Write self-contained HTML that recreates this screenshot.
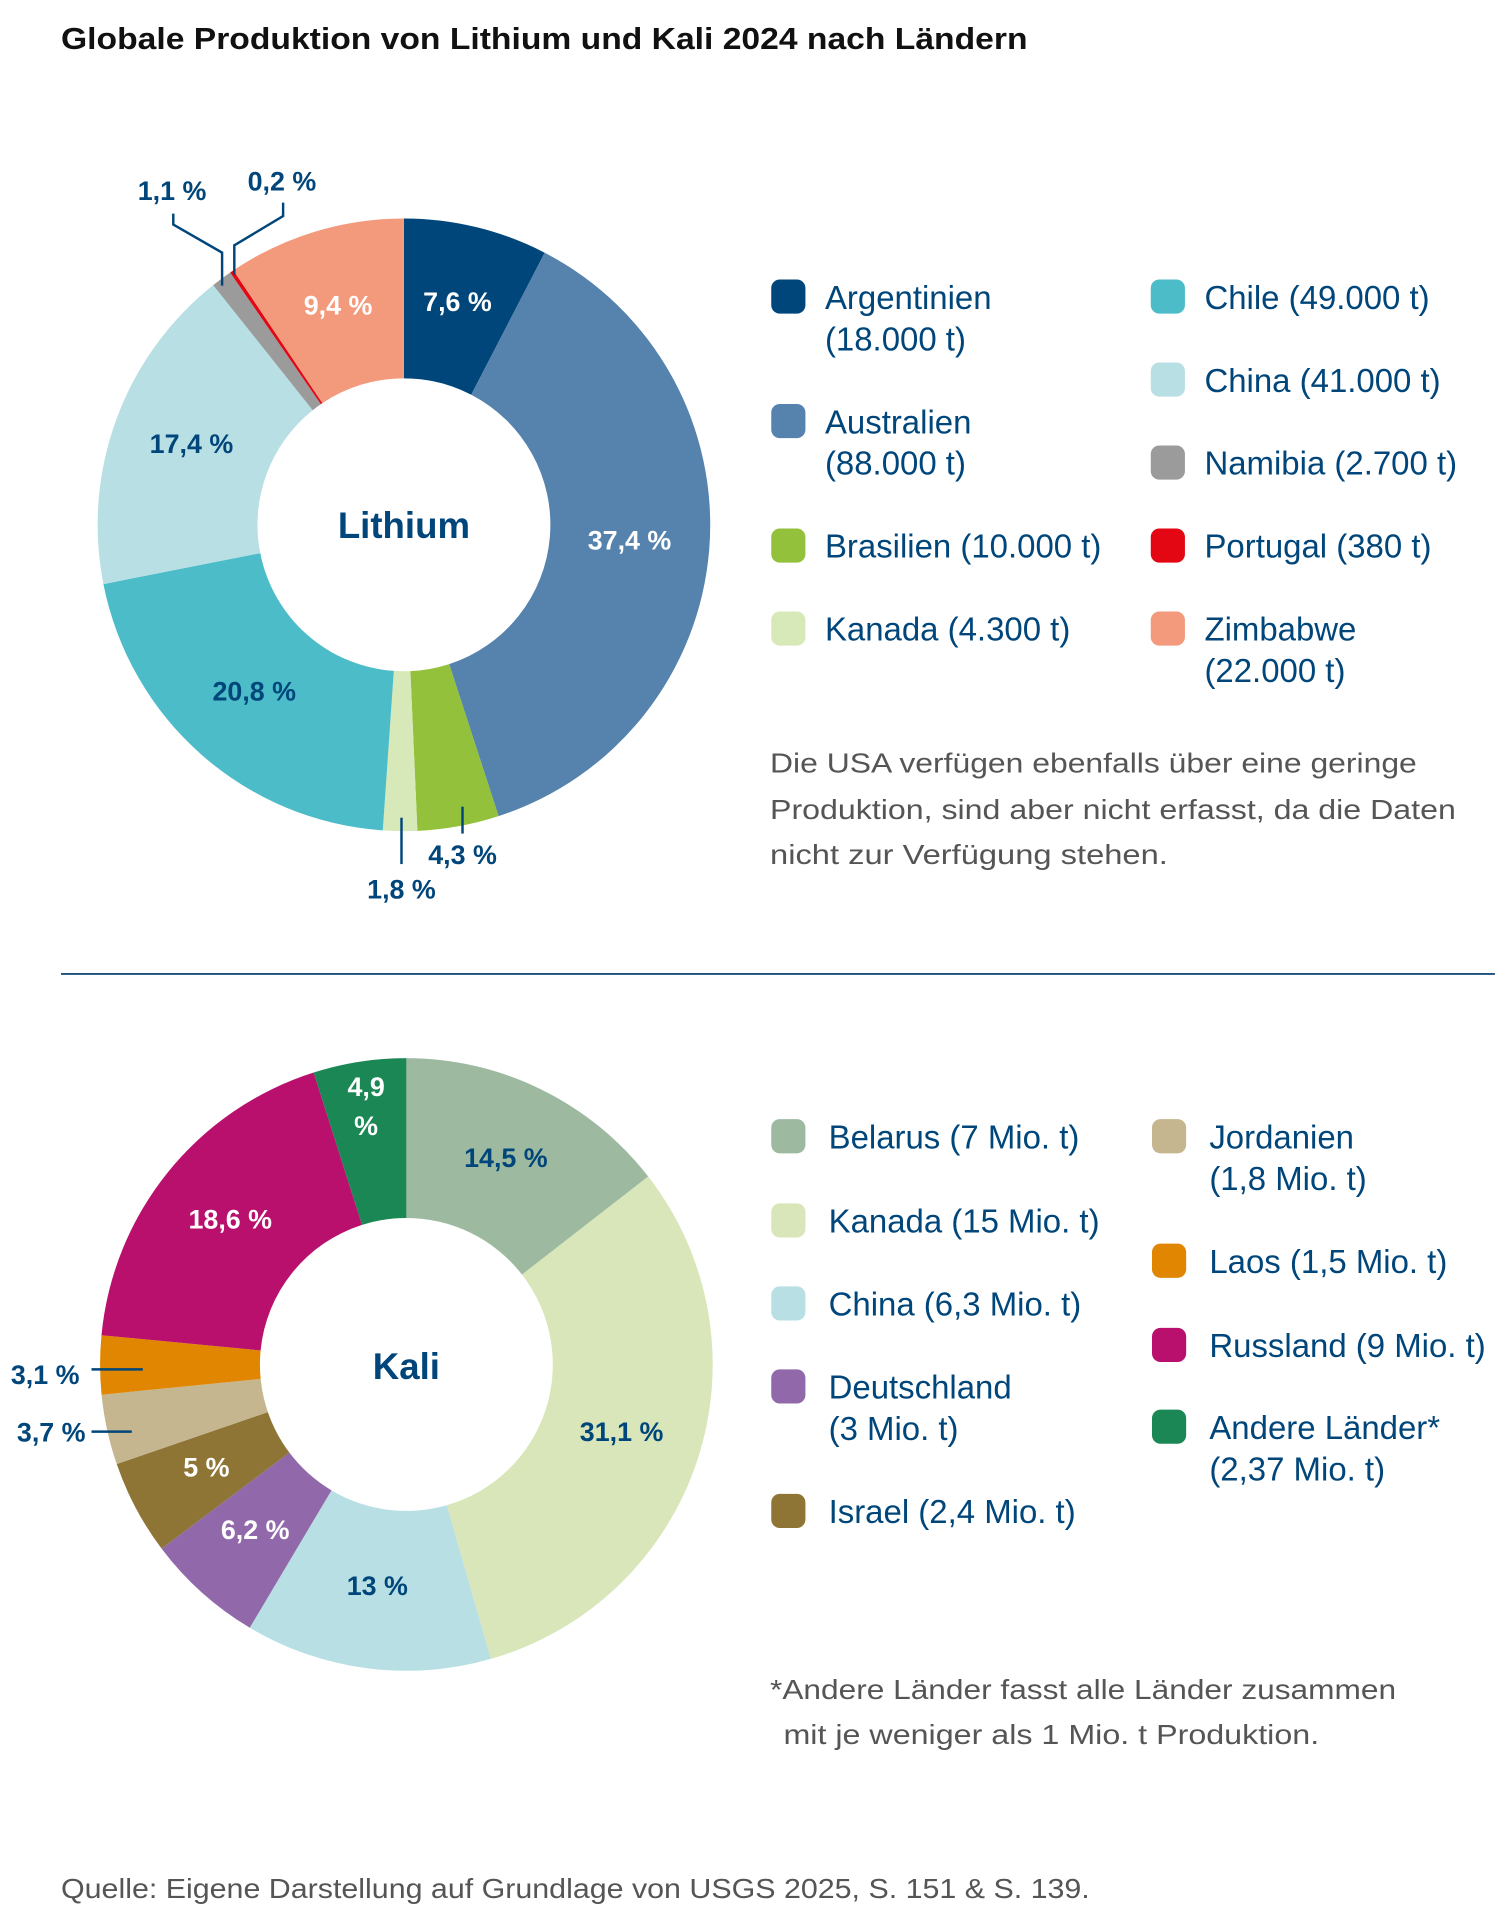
<!DOCTYPE html>
<html><head><meta charset="utf-8"><style>
html,body{margin:0;padding:0;background:#fff}
svg{display:block}
text{font-family:"Liberation Sans",sans-serif}
</style></head><body>
<svg id="chart" width="1501" height="1921" viewBox="0 0 1230 1574" preserveAspectRatio="none" xmlns="http://www.w3.org/2000/svg">
<text x="50" y="40" font-size="25" font-weight="bold" fill="#111" textLength="792" lengthAdjust="spacingAndGlyphs">Globale Produktion von Lithium und Kali 2024 nach Ländern</text>
<g id="li"></g>
<g id="ka"></g>
<text x="331" y="441" font-size="30" font-weight="bold" fill="#00467a" text-anchor="middle">Lithium</text>
<text x="333" y="1130" font-size="30" font-weight="bold" fill="#00467a" text-anchor="middle">Kali</text>
<g stroke="#00467a" stroke-width="2" fill="none">
<polyline points="142,175 142,184 182,207 182,234"/>
<polyline points="232,166 232,177 192,201 192,225"/>
<line x1="379" y1="661" x2="379" y2="683"/>
<line x1="329" y1="670" x2="329" y2="708"/>
<line x1="75" y1="1173" x2="108" y2="1173"/>
<line x1="75" y1="1122" x2="117" y2="1122"/>
</g>
<g id="lgli"></g>
<g id="lgka"></g>
<g font-size="23" fill="#555">
<text x="631" y="633" textLength="530" lengthAdjust="spacingAndGlyphs">Die USA verfügen ebenfalls über eine geringe</text>
<text x="631" y="671" textLength="562" lengthAdjust="spacingAndGlyphs">Produktion, sind aber nicht erfasst, da die Daten</text>
<text x="631" y="708" textLength="326" lengthAdjust="spacingAndGlyphs">nicht zur Verfügung stehen.</text>
</g>
<line x1="50" y1="798" x2="1225" y2="798" stroke="#1d4f7c" stroke-width="1.5"/>
<g font-size="23" fill="#555">
<text x="631" y="1392" textLength="513" lengthAdjust="spacingAndGlyphs">*Andere Länder fasst alle Länder zusammen</text>
<text x="642" y="1429" textLength="439" lengthAdjust="spacingAndGlyphs">mit je weniger als 1 Mio. t Produktion.</text>
</g>
<text x="50" y="1555" font-size="23" fill="#555" textLength="843" lengthAdjust="spacingAndGlyphs">Quelle: Eigene Darstellung auf Grundlage von USGS 2025, S. 151 &amp; S. 139.</text>
</svg>
<script>
const liCategories=["Argentinien","Australien","Brasilien","Kanada","Chile","China","Namibia","Portugal","Zimbabwe"];
const liValues=[7.6,37.4,4.3,1.8,20.8,17.4,1.1,0.2,9.4];
const liLabels=["7,6 %","37,4 %","4,3 %","1,8 %","20,8 %","17,4 %","1,1 %","0,2 %","9,4 %"];
const liLegend=["Argentinien|(18.000 t)","Australien|(88.000 t)","Brasilien (10.000 t)","Kanada (4.300 t)","Chile (49.000 t)","China (41.000 t)","Namibia (2.700 t)","Portugal (380 t)","Zimbabwe|(22.000 t)"];
const kaCategories=["Belarus","Kanada","China","Deutschland","Israel","Jordanien","Laos","Russland","Andere Länder"];
const kaValues=[14.5,31.1,13,6.2,5,3.7,3.1,18.6,4.9];
const kaLabels=["14,5 %","31,1 %","13 %","6,2 %","5 %","3,7 %","3,1 %","18,6 %","4,9|%"];
const kaLegend=["Belarus (7 Mio. t)","Kanada (15 Mio. t)","China (6,3 Mio. t)","Deutschland|(3 Mio. t)","Israel (2,4 Mio. t)","Jordanien|(1,8 Mio. t)","Laos (1,5 Mio. t)","Russland (9 Mio. t)","Andere Länder*|(2,37 Mio. t)"];
const liColors=["#00467a","#5583ad","#93c13b","#d7e8b9","#4bbcc8","#b8dfe4","#9b9b9b","#e30613","#f39a7d"];
const kaColors=["#9dbaa1","#d8e6b9","#b8dfe4","#9169aa","#8f7535","#c5b690","#e08600","#b90f6d","#1a8754"];
const liLabelPos=[["in",1],["in",1],["out",0,379,708],["out",0,329,736],["in",0],["in",0],["out",0,141,164],["out",0,231,156],["in",1]];
const kaLabelPos=[["in",0],["in",0],["in",0],["in",1],["in",1],["out",0,42,1181],["out",0,37,1134],["in",1],["out",1,300,914]];
const NS="http://www.w3.org/2000/svg";
function pt(cx,cy,r,a){return [cx+r*Math.sin(a),cy-r*Math.cos(a)];}
function donut(gid,cx,cy,R,r,vals,cols,labels,pos,cats){
  const g=document.getElementById(gid);
  const tot=vals.reduce((a,b)=>a+b,0);
  let a0=0;
  vals.forEach((v,i)=>{
    const a1=a0+v/tot*2*Math.PI;
    const p1=pt(cx,cy,R,a0),p2=pt(cx,cy,R,a1),p3=pt(cx,cy,r,a1),p4=pt(cx,cy,r,a0);
    const lg=(a1-a0)>Math.PI?1:0;
    const p=document.createElementNS(NS,"path");
    p.setAttribute("d",`M${p1}A${R},${R} 0 ${lg} 1 ${p2}L${p3}A${r},${r} 0 ${lg} 0 ${p4}Z`);
    p.setAttribute("fill",cols[i]);
    
    
    g.appendChild(p);
    const ps=pos[i];let x,y;
    if(ps[0]==="in"){const m=pt(cx,cy,(R+r)/2,(a0+a1)/2);x=m[0];y=m[1]+5;}else{x=ps[2];y=ps[3];}
    const t=document.createElementNS(NS,"text");
    
    
    t.setAttribute("text-anchor","middle");t.setAttribute("font-size","22");t.setAttribute("font-weight","bold");
    t.setAttribute("fill",ps[1]?"#fff":"#00467a");
    const parts=labels[i].split("|");
    parts.forEach((s,k)=>{const ts=document.createElementNS(NS,"tspan");ts.setAttribute("x",x);ts.setAttribute("y",y+(k-(parts.length-1)/2)*32);ts.textContent=s;t.appendChild(ts);});
    g.appendChild(t);
    a0=a1;
  });
}
donut("li",331,430,251,120,liValues,liColors,liLabels,liLabelPos,liCategories);
donut("ka",333,1118,251,120,kaValues,kaColors,kaLabels,kaLabelPos,kaCategories);
function legend(gid,items,cols,rows){
  const g=document.getElementById(gid);
  items.forEach((s,i)=>{
    const [sx,tx,y]=rows[i];
    const rc=document.createElementNS(NS,"rect");
    rc.setAttribute("x",sx);rc.setAttribute("y",y-14);rc.setAttribute("width",28);rc.setAttribute("height",28);rc.setAttribute("rx",7);rc.setAttribute("fill",cols[i]);
    
    
    g.appendChild(rc);
    const t=document.createElementNS(NS,"text");
    
    
    t.setAttribute("font-size","27");t.setAttribute("fill","#00467a");
    s.split("|").forEach((l,k)=>{const ts=document.createElementNS(NS,"tspan");ts.setAttribute("x",tx);ts.setAttribute("y",y+10+k*34);ts.textContent=l;t.appendChild(ts);});
    g.appendChild(t);
  });
}
legend("lgli",liLegend,liColors,[[632,676,243],[632,676,345],[632,676,447],[632,676,515],[943,987,243],[943,987,311],[943,987,379],[943,987,447],[943,987,515]]);
legend("lgka",kaLegend,kaColors,[[632,679,931],[632,679,1000],[632,679,1068],[632,679,1136],[632,679,1238],[944,991,931],[944,991,1033],[944,991,1102],[944,991,1169]]);
</script>
</body></html>
